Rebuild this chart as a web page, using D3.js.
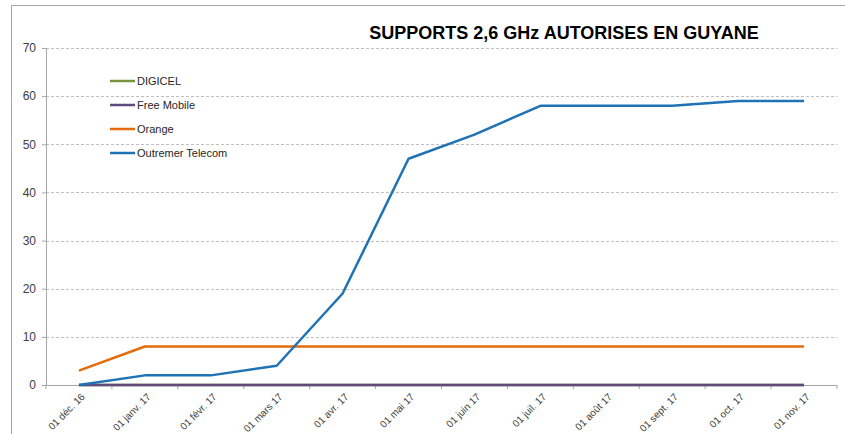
<!DOCTYPE html>
<html>
<head>
<meta charset="utf-8">
<script src="https://cdn.jsdelivr.net/npm/d3@7"></script>
<style>
  body { margin: 0; background: #fff; }
  svg { display: block; font-family: "Liberation Sans", Arial, sans-serif; }
</style>
</head>
<body>
<div id="chart"></div>
<script>
const months = ['01 déc. 16', '01 janv. 17', '01 févr. 17', '01 mars 17', '01 avr. 17', '01 mai 17',
    '01 juin 17', '01 juil. 17', '01 août 17', '01 sept. 17', '01 oct. 17', '01 nov. 17'];
const digicel = [0, 0, 0, 0, 0, 0, 0, 0, 0, 0, 0, 0];
const freeMobile = [0, 0, 0, 0, 0, 0, 0, 0, 0, 0, 0, 0];
const orange = [3, 8, 8, 8, 8, 8, 8, 8, 8, 8, 8, 8];
const outremer = [0, 2, 2, 4, 19, 47, 52, 58, 58, 58, 59, 59];
const yTicks = [0, 10, 20, 30, 40, 50, 60, 70];

const series = [
    { name: 'DIGICEL', values: digicel, color: '#77933c' },
    { name: 'Free Mobile', values: freeMobile, color: '#604a7b' },
    { name: 'Orange', values: orange, color: '#e46c0a' },
    { name: 'Outremer Telecom', values: outremer, color: '#1f72b4' }
];

const [svgWidth, svgHeight] = [845, 434];
const margin = { left: 46, right: 8, top: 48, bottom: 49 };
const width = svgWidth - margin.left - margin.right;
const height = svgHeight - margin.top - margin.bottom;

function translate(x, y) {
    return 'translate(' + x + ',' + y + ')';
}

const svg = d3.select('#chart').append('svg')
    .attr('width', svgWidth)
    .attr('height', svgHeight);

// outer frame
svg.append('rect')
    .attr('x', 11.5).attr('y', 5.5)
    .attr('width', 900).attr('height', 600)
    .attr('fill', 'none').attr('stroke', '#a6a6a6');

const chart = svg.append('g').attr('transform', translate(margin.left, margin.top));

const x = d3.scaleBand().domain(months).range([0, width]);
const y = d3.scaleLinear().domain([0, 70]).range([height, 0]);

// gridlines
chart.append('g').selectAll('line')
    .data(yTicks.filter(d => d > 0))
    .join('line')
    .attr('x1', 0).attr('x2', width)
    .attr('y1', d => Math.round(y(d)) + 0.5).attr('y2', d => Math.round(y(d)) + 0.5)
    .attr('stroke', '#bfbfbf')
    .attr('stroke-dasharray', '3,2');

// y axis
const yAxis = chart.append('g')
    .call(d3.axisLeft(y).tickValues(yTicks).tickSize(4).tickPadding(6));
yAxis.select('.domain').attr('stroke', '#a6a6a6');
yAxis.selectAll('.tick line').attr('stroke', '#a6a6a6');
yAxis.selectAll('text').attr('font-size', 12).attr('fill', '#404040');

// x axis with ticks at category boundaries
const xAxis = chart.append('g').attr('transform', translate(0, height));
xAxis.append('line')
    .attr('x1', 0).attr('x2', width)
    .attr('y1', 0.5).attr('y2', 0.5)
    .attr('stroke', '#a6a6a6');
xAxis.selectAll('line.tk')
    .data(months.concat(['end']))
    .join('line')
    .attr('class', 'tk')
    .attr('x1', (d, i) => i * x.step()).attr('x2', (d, i) => i * x.step())
    .attr('y1', 0).attr('y2', 4)
    .attr('stroke', '#a6a6a6');
xAxis.selectAll('text')
    .data(months)
    .join('text')
    .attr('transform', d => translate(x(d) + x.bandwidth() / 2 + 4, 10) + ' rotate(-45)')
    .attr('text-anchor', 'end')
    .attr('dy', '0.35em')
    .attr('font-size', 10)
    .attr('fill', '#404040')
    .text(d => d);

// lines
const line = d3.line()
    .x((d, i) => x(months[i]) + x.bandwidth() / 2)
    .y(d => y(d));

chart.append('g').selectAll('path')
    .data(series)
    .join('path')
    .attr('d', d => line(d.values))
    .attr('fill', 'none')
    .attr('stroke', d => d.color)
    .attr('stroke-width', 2.5)
    .attr('stroke-linejoin', 'round');

// legend
const legend = svg.append('g').attr('transform', translate(110, 81));
const item = legend.selectAll('g')
    .data(series)
    .join('g')
    .attr('transform', (d, i) => translate(0, i * 24));
item.append('line')
    .attr('x1', 0).attr('x2', 25)
    .attr('stroke', d => d.color)
    .attr('stroke-width', 2.5);
item.append('text')
    .attr('x', 27).attr('dy', '0.35em')
    .attr('font-size', 11)
    .attr('fill', '#262626')
    .text(d => d.name);

// title
svg.append('text')
    .attr('x', 564).attr('y', 39)
    .attr('text-anchor', 'middle')
    .attr('font-size', 18)
    .attr('font-weight', 'bold')
    .attr('fill', '#000')
    .text('SUPPORTS 2,6 GHz AUTORISES EN GUYANE');
</script>
</body>
</html>
